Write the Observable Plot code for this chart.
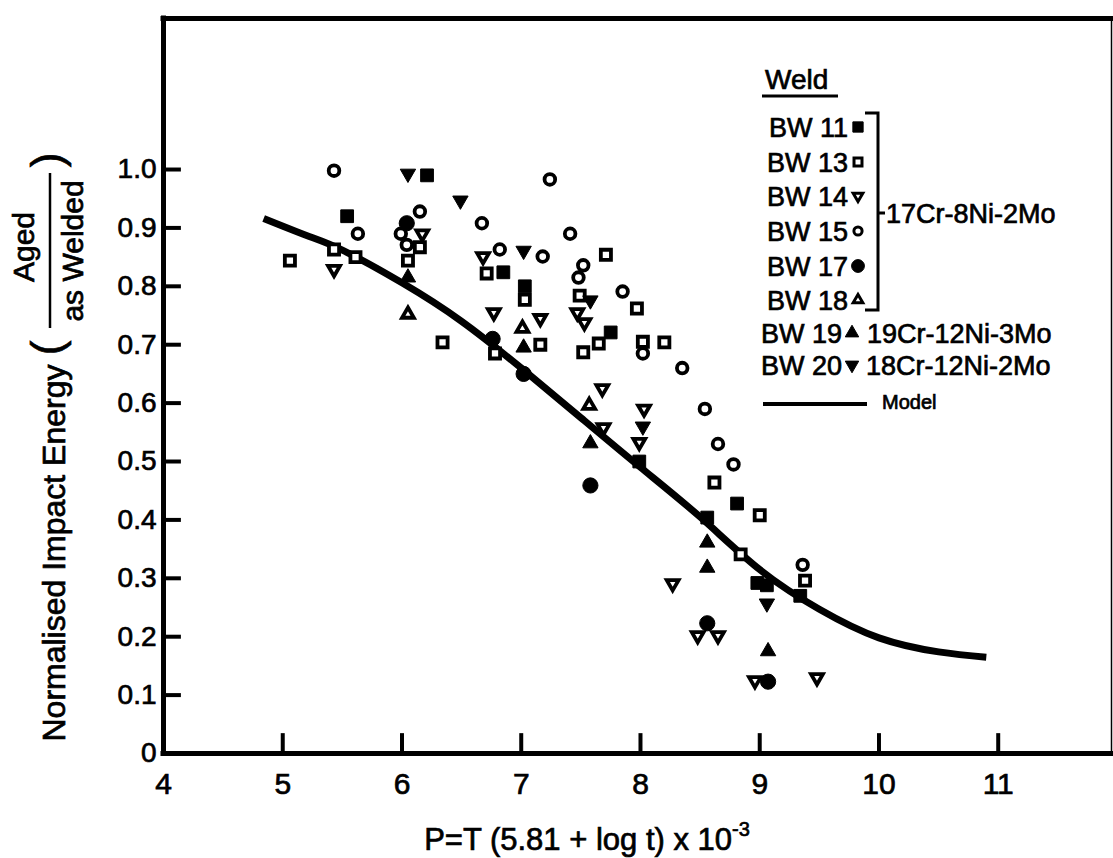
<!DOCTYPE html>
<html><head><meta charset="utf-8">
<script src="https://cdn.jsdelivr.net/npm/d3@7"></script>
<script src="https://cdn.jsdelivr.net/npm/@observablehq/plot@0.6"></script>
<style>
html,body{margin:0;padding:0;background:#fff;}
#chart svg{display:block;}
#chart svg text{stroke:black;stroke-width:0.7px;}
</style></head><body><div id="chart"></div>
<script>
// ---------- axes ----------
const xTicks = [4, 5, 6, 7, 8, 9, 10, 11];
const xTickLabels = ["4", "5", "6", "7", "8", "9", "10", "11"];
const yTicks = [0, 0.1, 0.2, 0.3, 0.4, 0.5, 0.6, 0.7, 0.8, 0.9, 1.0];
const yTickLabels = ["0", "0.1", "0.2", "0.3", "0.4", "0.5", "0.6", "0.7", "0.8", "0.9", "1.0"];
const xDomain = [4, 11.95];
const yDomain = [0, 1.2586];

// ---------- data ----------
const bw11X = [5.54, 6.21, 6.85, 7.03, 7.75, 7.99, 8.56, 8.81, 8.98, 9.06, 9.34];
const bw11Y = [0.92, 0.99, 0.824, 0.80, 0.721, 0.50, 0.404, 0.428, 0.292, 0.288, 0.27];

const bw13X = [5.06, 5.43, 5.61, 6.05, 6.15, 6.34, 6.71, 6.78, 7.03, 7.16, 7.49, 7.52, 7.65, 7.71, 7.97, 8.02, 8.2, 8.62, 8.84, 9.0, 9.38];
const bw13Y = [0.844, 0.863, 0.85, 0.844, 0.867, 0.704, 0.822, 0.685, 0.777, 0.70, 0.784, 0.687, 0.702, 0.854, 0.762, 0.705, 0.704, 0.464, 0.341, 0.408, 0.296];

const bw14X = [5.43, 6.17, 6.68, 6.77, 7.16, 7.47, 7.53, 7.68, 7.69, 7.99, 8.03, 8.27, 8.48, 8.65, 8.96, 9.48];
const bw14Y = [0.829, 0.89, 0.851, 0.755, 0.745, 0.755, 0.738, 0.625, 0.558, 0.533, 0.59, 0.291, 0.202, 0.202, 0.125, 0.13];

const bw15X = [5.43, 5.63, 5.99, 6.04, 6.15, 6.67, 6.82, 7.18, 7.24, 7.41, 7.48, 7.52, 7.85, 8.02, 8.35, 8.54, 8.65, 8.78, 9.36];
const bw15Y = [0.998, 0.89, 0.89, 0.871, 0.928, 0.908, 0.863, 0.851, 0.983, 0.89, 0.815, 0.836, 0.791, 0.685, 0.66, 0.59, 0.53, 0.495, 0.323];

const bw17X = [6.04, 6.76, 7.02, 7.58, 8.56, 9.07];
const bw17Y = [0.908, 0.71, 0.65, 0.459, 0.223, 0.123];

const bw18X = [6.05, 7.01, 7.57];
const bw18Y = [0.752, 0.728, 0.596];

const bw19X = [6.05, 7.02, 7.58, 8.56, 8.56, 9.07];
const bw19Y = [0.815, 0.695, 0.531, 0.361, 0.318, 0.175];

const bw20X = [6.05, 6.49, 7.02, 7.58, 8.02, 9.06];
const bw20Y = [0.993, 0.947, 0.861, 0.776, 0.56, 0.257];

const modelX = [4.84, 5.2, 5.5, 6.0, 6.5, 7.0, 7.5, 8.0, 8.5, 9.0, 9.5, 10.0, 10.5, 10.9];
const modelY = [0.916, 0.887, 0.862, 0.806, 0.74, 0.66, 0.575, 0.49, 0.405, 0.315, 0.247, 0.198, 0.174, 0.165];

const weldNames = ["BW 11", "BW 13", "BW 14", "BW 15", "BW 17", "BW 18", "BW 19", "BW 20"];
const groupLabel = "17Cr-8Ni-2Mo";
const bw19Label = "19Cr-12Ni-3Mo";
const bw20Label = "18Cr-12Ni-2Mo";
const modelLabel = "Model";
const legendTitle = "Weld";
const xTitle = "P=T (5.81 + log t) x 10";
const xTitleSup = "-3";
const yTitle = "Normalised Impact Energy";
const yNum = "Aged";
const yDen = "as Welded";

// ---------- symbols ----------
const triDown = {
  draw(context, size) {
    const y = -Math.sqrt(size / (Math.sqrt(3) * 3));
    context.moveTo(0, -y * 2);
    context.lineTo(-Math.sqrt(3) * y, y);
    context.lineTo(Math.sqrt(3) * y, y);
    context.closePath();
  }
};
const triUp = d3.symbolTriangle;

const FONT = "'Liberation Sans', Arial, Helvetica, sans-serif";
const openStyle = {fill: "white", stroke: "black", strokeWidth: 3.8};
const filledStyle = {fill: "black", stroke: "black", strokeWidth: 1};

const series = [
  {name: weldNames[0], xs: bw11X, ys: bw11Y, symbol: d3.symbolSquare, r: 7.2, style: filledStyle, lr: 5.8},
  {name: weldNames[1], xs: bw13X, ys: bw13Y, symbol: d3.symbolSquare, r: 5.7, style: openStyle, lr: 4.5},
  {name: weldNames[2], xs: bw14X, ys: bw14Y, symbol: triDown, r: 4.4, style: openStyle, lr: 3.6},
  {name: weldNames[3], xs: bw15X, ys: bw15Y, symbol: d3.symbolCircle, r: 5.3, style: openStyle, lr: 4.1},
  {name: weldNames[4], xs: bw17X, ys: bw17Y, symbol: d3.symbolCircle, r: 7.6, style: filledStyle, lr: 6.4},
  {name: weldNames[5], xs: bw18X, ys: bw18Y, symbol: triUp, r: 4.4, style: openStyle, lr: 3.6},
  {name: weldNames[6], xs: bw19X, ys: bw19Y, symbol: triUp, r: 5.7, style: filledStyle, lr: 5.0},
  {name: weldNames[7], xs: bw20X, ys: bw20Y, symbol: triDown, r: 5.7, style: filledStyle, lr: 5.0}
];
const rowsOf = s => s.xs.map((x, i) => ({x, y: s.ys[i], name: s.name}));
const modelRows = modelX.map((x, i) => ({x, y: modelY[i]}));

const yTickLen = 0.15;   // in x units
const xTickLen = 0.034;  // in y units

const marks = [
  // frame
  Plot.ruleX([xDomain[0]], {y1: yDomain[0], y2: yDomain[1], strokeWidth: 5, strokeLinecap: "square"}),
  Plot.ruleY([yDomain[1]], {x1: xDomain[0], x2: xDomain[1], strokeWidth: 5, strokeLinecap: "square"}),
  Plot.ruleY([yDomain[0]], {x1: xDomain[0], x2: xDomain[1], strokeWidth: 5, strokeLinecap: "square"}),
  Plot.ruleX([xDomain[1]], {y1: yDomain[0], y2: yDomain[1], strokeWidth: 1.5}),
  // inner ticks
  Plot.ruleY(yTicks.slice(1), {x1: xDomain[0], x2: xDomain[0] + yTickLen, strokeWidth: 4}),
  Plot.ruleX(xTicks.slice(1), {y1: yDomain[0], y2: yDomain[0] + xTickLen, strokeWidth: 4}),
  // tick labels
  Plot.text(yTicks, {x: xDomain[0], y: d => d, text: (d, i) => yTickLabels[i], textAnchor: "end", dx: -7, fontSize: 28, fill: "black"}),
  Plot.text(xTicks, {x: d => d, y: yDomain[0], text: (d, i) => xTickLabels[i], dy: 31, fontSize: 30, fill: "black"}),
  // model curve
  Plot.line(modelRows, {x: "x", y: "y", curve: "natural", stroke: "black", strokeWidth: 7, strokeLinecap: "butt"}),
  // data
  ...series.map(s => Plot.dot(rowsOf(s), {x: "x", y: "y", symbol: s.symbol, r: s.r, strokeLinejoin: "miter", ...s.style}))
];

const plot = Plot.plot({
  width: 1113,
  height: 858,
  marginLeft: 163,
  marginRight: 2,
  marginTop: 18,
  marginBottom: 105,
  x: {domain: xDomain, axis: null},
  y: {domain: yDomain, axis: null},
  style: {fontFamily: FONT, background: "white", color: "black", overflow: "visible"},
  marks
});
document.getElementById("chart").appendChild(plot);

// ---------- titles & legend ----------
const svg = d3.select(plot);
const g = svg.append("g").attr("font-family", FONT).attr("fill", "black").attr("text-anchor", "start");

// x title
const xt = g.append("text").attr("x", 587).attr("y", 850).attr("text-anchor", "middle").attr("font-size", 31);
xt.append("tspan").text(xTitle);
xt.append("tspan").attr("font-size", 20).attr("dy", -14).text(xTitleSup);

// y title (rotated)
const yt = g.append("g").attr("text-anchor", "middle");
yt.append("text").attr("transform", "translate(65,553) rotate(-90)").attr("font-size", 32).text(yTitle);
yt.append("text").attr("transform", "translate(62,348) rotate(-90)").attr("font-size", 44).text("(");
yt.append("text").attr("transform", "translate(62,160) rotate(-90)").attr("font-size", 44).text(")");
yt.append("text").attr("transform", "translate(34,247) rotate(-90)").attr("font-size", 30).text(yNum);
yt.append("text").attr("transform", "translate(83,251) rotate(-90)").attr("font-size", 30).text(yDen);
yt.append("line").attr("x1", 50).attr("x2", 50).attr("y1", 173).attr("y2", 328).attr("stroke", "black").attr("stroke-width", 2.5);

// legend
const lg = g.append("g").attr("text-anchor", "start");
lg.append("text").attr("x", 765).attr("y", 89).attr("font-size", 28).text(legendTitle);
lg.append("line").attr("x1", 762).attr("x2", 838).attr("y1", 96).attr("y2", 96).attr("stroke", "black").attr("stroke-width", 3);
const rowY = [127, 162, 196, 231, 266, 300, 333, 365];
series.forEach((s, i) => {
  const y = rowY[i];
  const mx = i < 6 ? 858 : 852;
  lg.append("text").attr("x", i < 6 ? 848 : 842).attr("y", y).attr("dy", "0.36em").attr("text-anchor", "end").attr("font-size", 27).text(s.name);
  lg.append("path")
    .attr("transform", `translate(${mx},${y})`)
    .attr("d", d3.symbol(s.symbol, Math.PI * s.lr * s.lr)())
    .attr("fill", s.style.fill).attr("stroke", s.style.stroke)
    .attr("stroke-width", s.style === openStyle ? 3 : 1)
    .attr("stroke-linejoin", "miter");
});
lg.append("path").attr("d", "M865,113H878V310H865M878,213H885").attr("fill", "none").attr("stroke", "black").attr("stroke-width", 3);
lg.append("text").attr("x", 886).attr("y", 213).attr("dy", "0.36em").attr("font-size", 27).text(groupLabel);
lg.append("text").attr("x", 867).attr("y", rowY[6]).attr("dy", "0.36em").attr("font-size", 27).text(bw19Label);
lg.append("text").attr("x", 866).attr("y", rowY[7]).attr("dy", "0.36em").attr("font-size", 27).text(bw20Label);
lg.append("line").attr("x1", 763).attr("x2", 867).attr("y1", 404).attr("y2", 404).attr("stroke", "black").attr("stroke-width", 4);
lg.append("text").attr("x", 882).attr("y", 402).attr("dy", "0.36em").attr("font-size", 20).text(modelLabel);
</script>
</body></html>
